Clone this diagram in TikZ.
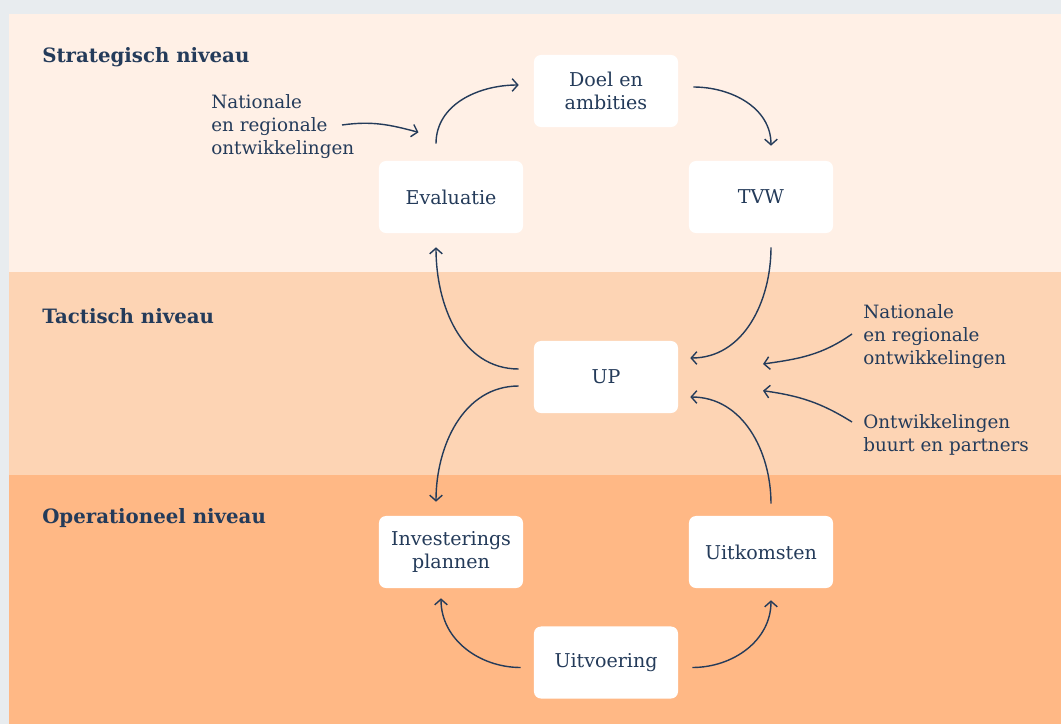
\documentclass[tikz,border=0pt]{standalone}
\usepackage{fontspec}
\setmainfont{DejaVu Serif}
\usetikzlibrary{arrows.meta,positioning,calc}
\definecolor{bgGrey}{HTML}{E8ECEF}
\definecolor{bandStr}{HTML}{FFF0E6}
\definecolor{bandTac}{HTML}{FDD4B4}
\definecolor{bandOps}{HTML}{FFB885}
\definecolor{ink}{HTML}{243B5A}

\begin{document}
\begin{tikzpicture}[
  x=0.025cm, y=0.025cm,
  >={Straight Barb[length=4pt,width=9pt]},
  font=\fontsize{13bp}{16.3bp}\selectfont,
  stap/.style  ={fill=white, rounded corners=5pt, align=center, text=ink,
                 minimum width=3.6cm, minimum height=1.8cm, inner sep=0pt,
                 font=\fontsize{13.5bp}{16.3bp}\selectfont},
  flow/.style  ={->, draw=ink, line width=1pt},
  note/.style  ={inner sep=0pt, align=left, text=ink, anchor=north west},
  level/.style ={inner sep=0pt, anchor=base west, text=ink,
                 font=\fontsize{14bp}{17bp}\selectfont\bfseries},
]

% ---- the grid, in pixels of the 1061 x 724 page -------------------------------------
\pgfmathsetmacro{\colL}{451}
\pgfmathsetmacro{\colM}{606}
\pgfmathsetmacro{\colR}{761}
\pgfmathsetmacro{\rowA}{91}
\pgfmathsetmacro{\rowB}{197}
\pgfmathsetmacro{\rowC}{377}
\pgfmathsetmacro{\rowD}{552}
\pgfmathsetmacro{\rowE}{662.5}

\useasboundingbox (0,0) rectangle (1061,-724);
\fill[bgGrey] (0,0) rectangle (1061,-724);

% ============================================================ THE THREE BANDS
\fill[bandStr] (9,-14)  rectangle (1061,-272);
\fill[bandTac] (9,-272) rectangle (1061,-475);
\fill[bandOps] (9,-475) rectangle (1061,-724);

\node[level] (hStr) at (42,-62.7)  {Strategisch niveau};
\node[level] (hTac) at (42,-323.3) {Tactisch niveau};
\node[level] (hOps) at (42,-523.3) {Operationeel niveau};

% ============================================================ THE CYCLE
\node[stap] (doel) at (\colM,-\rowA) {Doel en\\ambities};
\node[stap] (eval) at (\colL,-\rowB) {Evaluatie};
\node[stap] (tvw)  at (\colR,-\rowB) {TVW};
\node[stap] (up)   at (\colM,-\rowC) {UP};
\node[stap] (inv)  at (\colL,-\rowD) {Investerings\\plannen};
\node[stap] (uitk) at (\colR,-\rowD) {Uitkomsten};
\node[stap] (uitv) at (\colM,-\rowE) {Uitvoering};

\draw[flow] ($(eval.north)+(-15,17)$) to[out=90,in=180]  ($(doel.west)+(-15,6)$);
\draw[flow] ($(doel.east)+(15,4)$)    to[out=0,in=90]    ($(tvw.north)+(10,15)$);
\draw[flow] ($(tvw.south)+(10,-14)$)  to[out=-90,in=0]   ($(up.east)+(12,19)$);
\draw[flow] ($(up.west)+(-15,8)$)     to[out=180,in=-90] ($(eval.south)+(-15,-14)$);
\draw[flow] ($(up.west)+(-15,-9)$)    to[out=180,in=90]  ($(inv.north)+(-15,14)$);
\draw[flow] ($(uitv.west)+(-13,-5)$)  to[out=180,in=-90] ($(inv.south)+(-10,-10)$);
\draw[flow] ($(uitv.east)+(14,-5)$)   to[out=0,in=-90]   ($(uitk.south)+(10,-12)$);
\draw[flow] ($(uitk.north)+(10,12)$)  to[out=90,in=0]    ($(up.east)+(12,-20)$);

% ============================================================ OUTSIDE INFLUENCES
\node[note] (natA) at (211,-94)  {Nationale\\en regionale\\ontwikkelingen};
\node[note] (natB) at (863,-304) {Nationale\\en regionale\\ontwikkelingen};
\node[note] (natC) at (863,-414) {Ontwikkelingen\\buurt en partners};

\coordinate (natAtip) at (418.5,-132.3);
\coordinate (natBtip) at (763,-364);
\coordinate (natCtip) at (763,-390.7);

\draw[flow] ($(natA.north west)+(131,-31)$) to[out=8,in=165]   (natAtip);
\draw[flow] ($(natB.north west)+(-11,-30)$) to[out=215,in=8]   (natBtip);
\draw[flow] ($(natC.north west)+(-11,-8)$)  to[out=148,in=-8]  (natCtip);

\end{tikzpicture}
\end{document}
